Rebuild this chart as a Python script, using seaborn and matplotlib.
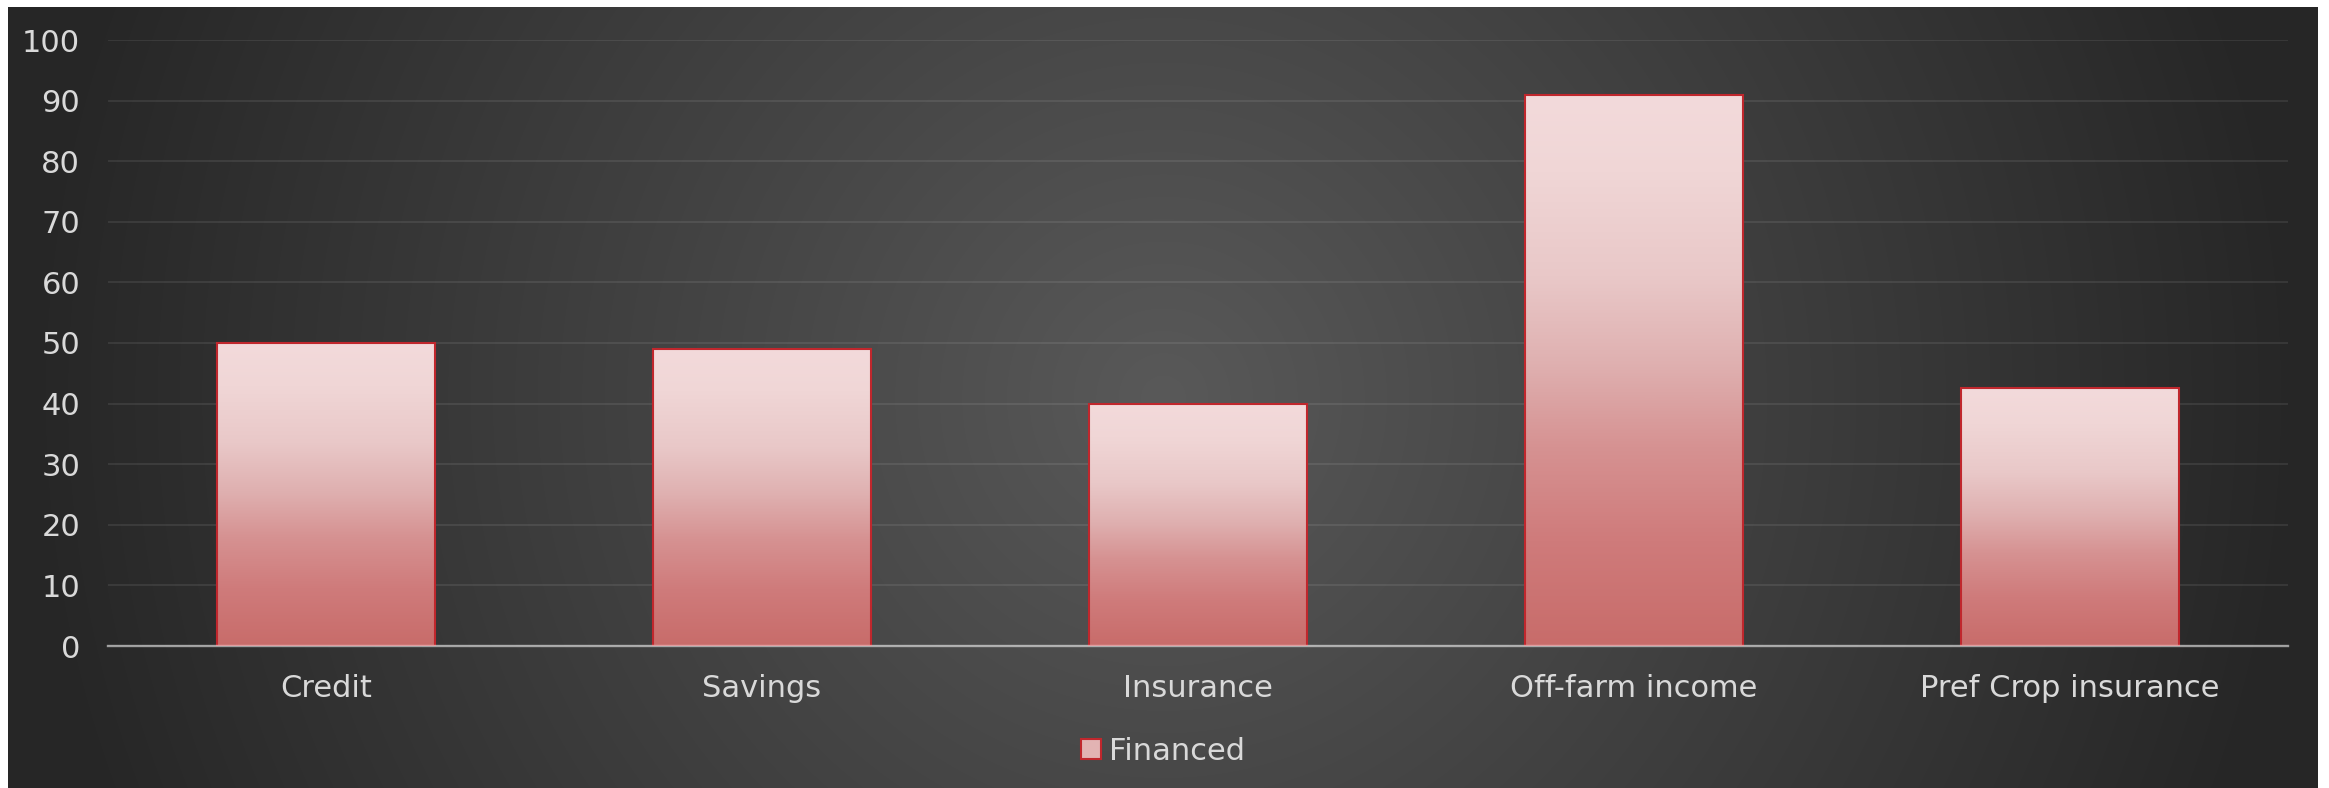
import numpy as np
import pandas as pd
import matplotlib
matplotlib.use("Agg")
import matplotlib.pyplot as plt
from matplotlib.colors import LinearSegmentedColormap
from matplotlib.patches import Patch
import seaborn as sns

# Share of respondents who financed through each source (%)
categories = ["Credit", "Savings", "Insurance", "Off-farm income", "Pref Crop insurance"]
financed = [50, 49, 40, 91, 42.5]
series_name = "Financed"
y_ticks = [0, 10, 20, 30, 40, 50, 60, 70, 80, 90, 100]

df = pd.DataFrame({"source": categories, "value": financed})

sns.set_style("dark")
plt.rcParams["font.family"] = ["DejaVu Sans"]

TEXT = "#d9d9d9"
FS = 22
W, H, DPI = 2329, 788, 100
fig = plt.figure(figsize=(W / DPI, H / DPI), dpi=DPI, facecolor="white")

# Dark panel with a soft radial glow in the middle
bg = fig.add_axes([8 / W, 0, 2310 / W, 781 / H], zorder=-10)
bg.set_axis_off()
ph, pw = 781, 2310
yy, xx = np.mgrid[0:ph, 0:pw]
d = np.hypot(xx - pw / 2, yy - ph / 2) / 1140.0
shade = np.clip(89 - 51 * d, 38, 89) / 255.0
bg.imshow(np.dstack([shade] * 3), aspect="auto", interpolation="bilinear",
          extent=[0, 1, 0, 1])

ax = fig.add_axes([108 / W, (H - 646) / H, 2180 / W, 606 / H])
ax.patch.set_alpha(0)

sns.barplot(data=df, x="source", y="value", ax=ax, width=0.5,
            color="#e0a8a8", edgecolor="#c0272d", linewidth=1.5,
            label=series_name)

# Vertical pink-to-red gradient inside each bar
bar_cmap = LinearSegmentedColormap.from_list(
    "bar_grad",
    [(0.0, "#c86c6a"), (0.19, "#cf7b7b"), (0.36, "#d69292"),
     (0.51, "#dfb0b0"), (0.67, "#e9c8c8"), (0.86, "#f0d6d6"), (1.0, "#f3dadb")])
grad = np.linspace(0, 1, 256).reshape(-1, 1)
for p in list(ax.patches):
    x0, y0 = p.get_x(), p.get_y()
    w, h = p.get_width(), p.get_height()
    im = ax.imshow(grad, cmap=bar_cmap, origin="lower", aspect="auto",
                   extent=[x0, x0 + w, y0, y0 + h], zorder=1.5,
                   interpolation="bilinear")
    im.set_clip_path(p)
    p.set_facecolor("none")
    p.set_zorder(2)

ax.set_xlim(-0.5, len(categories) - 0.5)
ax.set_ylim(0, 100)
ax.set_yticks(y_ticks)
ax.set_xlabel("")
ax.set_ylabel("")

ax.grid(axis="y", color="white", alpha=0.09, linewidth=1.3)
ax.grid(axis="x", visible=False)
ax.set_axisbelow(True)
for s in ["left", "right", "top"]:
    ax.spines[s].set_visible(False)
ax.spines["bottom"].set_color((1, 1, 1, 0.55))
ax.spines["bottom"].set_linewidth(1.7)
ax.spines["bottom"].set_zorder(5)

ax.tick_params(axis="y", length=0, pad=20, labelsize=FS, labelcolor=TEXT)
ax.tick_params(axis="x", length=0, pad=20.5, labelsize=FS, labelcolor=TEXT)

# Legend swatch in the mid tone of the bar fill
leg_handle = Patch(facecolor="#e2b3b3", edgecolor="#c0272d", linewidth=1.5,
                   label=series_name)
if ax.get_legend() is not None:
    ax.get_legend().remove()
fig.legend(handles=[leg_handle], loc="center", bbox_to_anchor=(0.4994, 37 / H),
           frameon=False, fontsize=FS, labelcolor=TEXT,
           handlelength=0.65, handleheight=0.65, handletextpad=0.25)

fig.savefig("out.png", dpi=DPI, facecolor="white")
